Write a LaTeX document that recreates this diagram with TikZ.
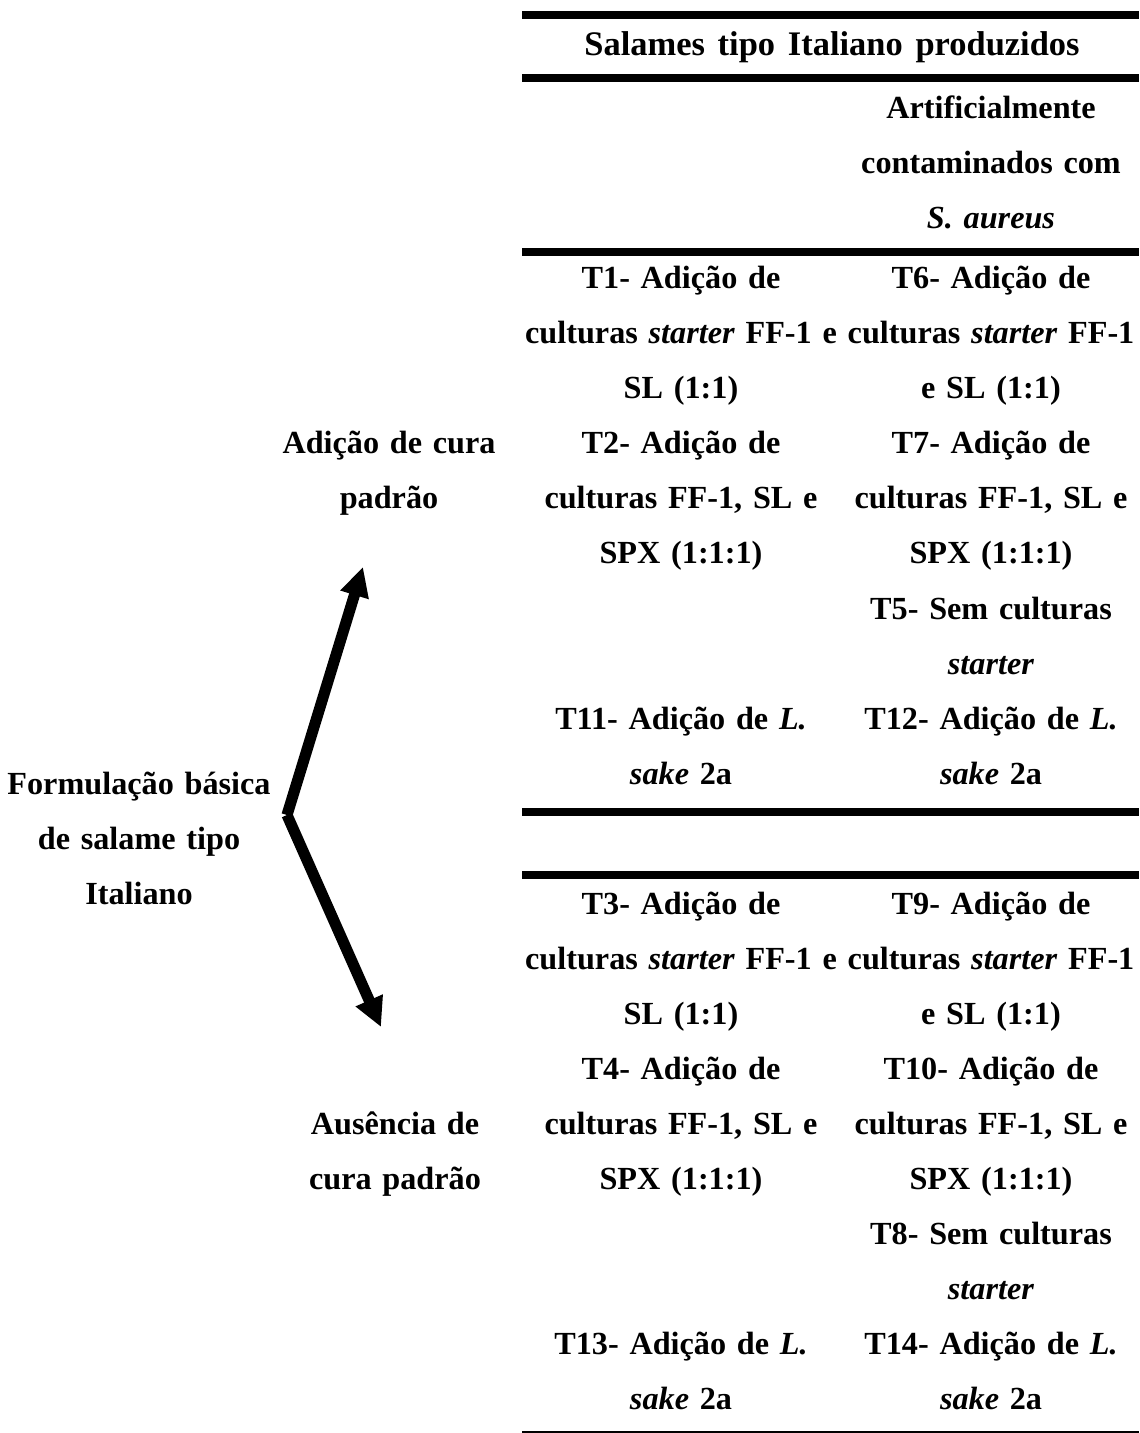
\documentclass[tikz,border=0pt]{standalone}
\usepackage{fontspec}
\setmainfont{Liberation Serif}
\usetikzlibrary{arrows.meta}

\tikzset{
  txt/.style={font=\fontsize{11.6}{19.8}\selectfont\bfseries, align=center, text width=170pt, anchor=base, inner sep=0pt},
  thickrule/.style={line width=2.9pt},
  thinrule/.style={line width=0.75pt},
  branch/.style={line width=4pt, -{Triangle[length=10.5pt,width=10pt]}}
}

\begin{document}
\begin{tikzpicture}[x=0.36pt, y=-0.36pt]
		\useasboundingbox (0,0) rectangle (1139,1433);
		
		%%%%% RULES %%%%%
		\draw[thickrule] (522,15) -- (1139,15);
		\draw[thickrule] (522,78) -- (1139,78);
		\draw[thickrule] (522,252) -- (1139,252);
		\draw[thickrule] (522,812) -- (1139,812);
		\draw[thickrule] (522,875) -- (1139,875);
		\draw[thinrule] (522,1432) -- (1139,1432);
		
		%%%%% HEADER %%%%%
		\node[txt, text width=220pt, font=\fontsize{12.4}{19.8}\selectfont\bfseries] (head) at (832,56) {\spaceskip=4.6pt Salames tipo Italiano produzidos};
		\node[txt] (contam) at (991,119) {Artificialmente\\contaminados com\\\textit{S. aureus}};
		
		%%%%% WITH CURE %%%%%
		\node[txt] (t1) at (681,289) {T1- Adição de\\culturas \textit{starter} FF-1 e\\SL (1:1)};
		\node[txt] (t2) at (681,454) {T2- Adição de\\culturas FF-1, SL e\\SPX (1:1:1)};
		\node[txt] (t11) at (681,729) {T11- Adição de \textit{L.}\\\textit{sake} 2a};
		
		\node[txt] (t6) at (991,289) {T6- Adição de\\culturas \textit{starter} FF-1\\e SL (1:1)};
		\node[txt] (t7) at (991,454) {T7- Adição de\\culturas FF-1, SL e\\SPX (1:1:1)};
		\node[txt] (t5) at (991,619) {T5- Sem culturas\\\textit{starter}};
		\node[txt] (t12) at (991,729) {T12- Adição de \textit{L.}\\\textit{sake} 2a};
		
		%%%%% WITHOUT CURE %%%%%
		\node[txt] (t3) at (681,914) {T3- Adição de\\culturas \textit{starter} FF-1 e\\SL (1:1)};
		\node[txt] (t4) at (681,1079) {T4- Adição de\\culturas FF-1, SL e\\SPX (1:1:1)};
		\node[txt] (t13) at (681,1354) {T13- Adição de \textit{L.}\\\textit{sake} 2a};
		
		\node[txt] (t9) at (991,914) {T9- Adição de\\culturas \textit{starter} FF-1\\e SL (1:1)};
		\node[txt] (t10) at (991,1079) {T10- Adição de\\culturas FF-1, SL e\\SPX (1:1:1)};
		\node[txt] (t8) at (991,1244) {T8- Sem culturas\\\textit{starter}};
		\node[txt] (t14) at (991,1354) {T14- Adição de \textit{L.}\\\textit{sake} 2a};
		
		%%%%% LEFT SIDE %%%%%
		\node[txt] (base) at (139,794) {Formulação básica\\de salame tipo\\Italiano};
		\node[txt] (cura) at (389,454) {Adição de cura\\padrão};
		\node[txt] (semcura) at (395,1134) {Ausência de\\cura padrão};
		
		\coordinate (fork) at (287,815);
		\coordinate (up) at (363,567);
		\coordinate (down) at (381,1027);
		\draw[branch] (fork) -- (up);
		\draw[branch] (fork) -- (down);
		
	\end{tikzpicture}
\end{document}
